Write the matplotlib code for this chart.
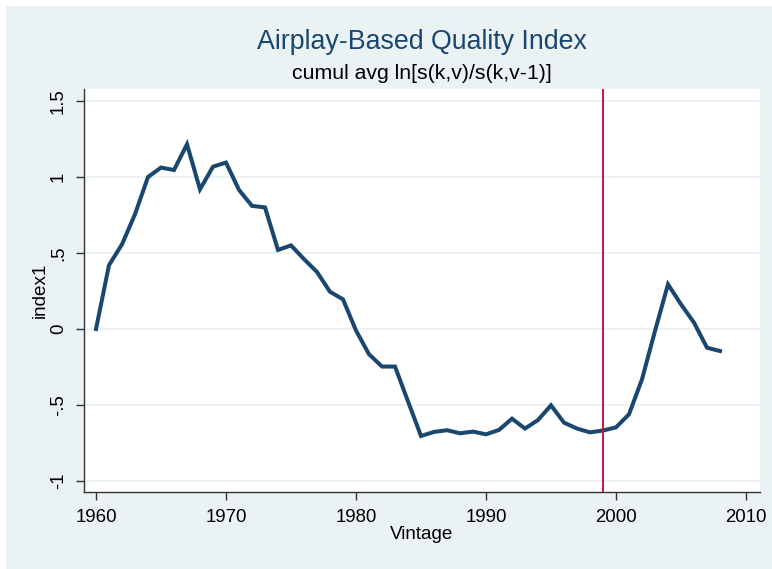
import matplotlib
matplotlib.use("Agg")
import matplotlib.pyplot as plt
from matplotlib.patches import Rectangle

plt.rcParams['font.family'] = ['Liberation Sans', 'DejaVu Sans']

years = list(range(1960, 2009))
index1 = [0.0, 0.42, 0.557, 0.755, 1.0, 1.062, 1.046, 1.215, 0.919, 1.068,
          1.095, 0.915, 0.81, 0.80, 0.52, 0.55, 0.46, 0.375, 0.245, 0.195,
          -0.01, -0.166, -0.247, -0.247, -0.476, -0.704, -0.677, -0.666, -0.686, -0.675,
          -0.693, -0.664, -0.59, -0.655, -0.599, -0.502, -0.616, -0.655, -0.68, -0.668,
          -0.647, -0.561, -0.331, -0.013, 0.294, 0.162, 0.042, -0.123, -0.145]
vline_year = 1999
yticks = [-1, -0.5, 0, 0.5, 1, 1.5]
ytick_labels = ['-1', '-.5', '0', '.5', '1', '1.5']
xticks = [1960, 1970, 1980, 1990, 2000, 2010]

W, H = 772, 569
fig = plt.figure(figsize=(W / 100, H / 100), dpi=100)
fig.patch.set_facecolor('white')
bg = '#EAF2F3'
fig.patches.append(Rectangle((6 / W, 0), 1 - 6 / W, 1 - 6 / H, transform=fig.transFigure,
                             facecolor=bg, edgecolor='none', zorder=-10))

left, right, top, bottom = 84, 760, 89, 492
ax = fig.add_axes([left / W, 1 - bottom / H, (right - left) / W, (bottom - top) / H])
ax.set_facecolor('white')

x_per_px = 1 / 13.0
y_per_px = 1 / 152.0
ax.set_xlim(1960 - (96 - left) * x_per_px, 1960 + (right - 96) * x_per_px)
ax.set_ylim(-1 - (bottom - 481) * y_per_px, 1.5 + (101 - top) * y_per_px)

for yv in yticks:
    ax.axhline(yv, color=bg, lw=1.3, zorder=0)

ax.plot(years, index1, color='#1A476F', lw=2.9, solid_joinstyle='miter', zorder=3)
ax.axvline(vline_year, color='#CC1240', lw=1.4, zorder=4)

for s in ['top', 'right']:
    ax.spines[s].set_visible(False)
for s in ['left', 'bottom']:
    ax.spines[s].set_color('#333333')
    ax.spines[s].set_linewidth(1.0)

ax.set_yticks(yticks)
ax.set_yticklabels(ytick_labels, rotation=90, va='center', fontsize=13.4)
ax.set_xticks(xticks)
ax.set_xticklabels([str(x) for x in xticks], fontsize=13.4)
ax.tick_params(axis='both', direction='out', length=5.8, width=1.0, color='#333333', pad=6.5)

ax.set_xlabel('Vintage', fontsize=13.6, labelpad=0)
ax.set_ylabel('index1', fontsize=13.6, labelpad=1)

fig.text(422 / W, 1 - 42 / H, 'Airplay-Based Quality Index', ha='center', va='center',
         fontsize=19.3, color='#1A476F')
fig.text(422 / W, 1 - 74 / H, 'cumul avg ln[s(k,v)/s(k,v-1)]', ha='center', va='center',
         fontsize=15.3, color='black')

fig.savefig('out.png', dpi=100, facecolor=fig.get_facecolor())
